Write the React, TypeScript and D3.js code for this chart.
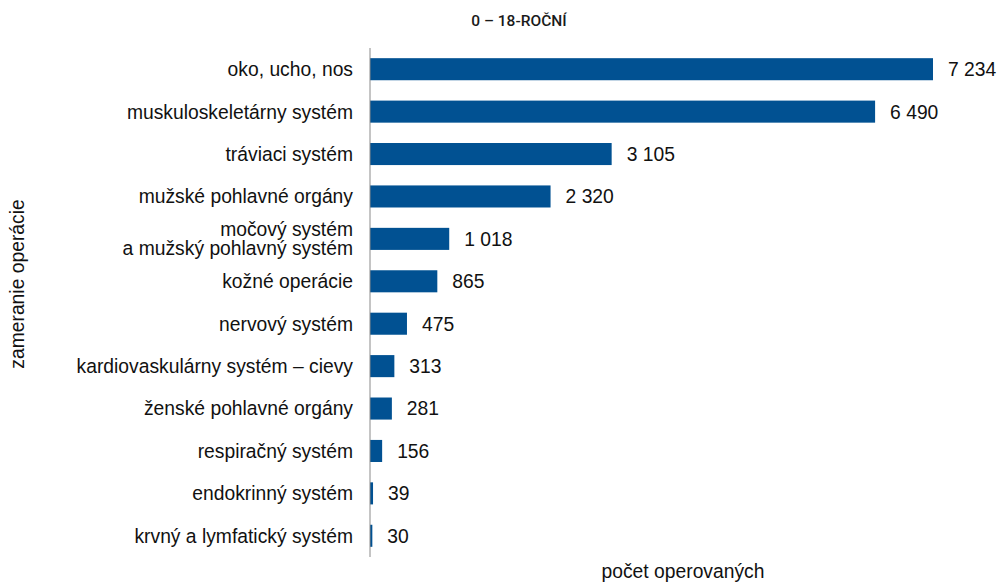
import React from "react";
import * as d3 from "d3";

const categories = [
  "oko, ucho, nos",
  "muskuloskeletárny systém",
  "tráviaci systém",
  "mužské pohlavné orgány",
  "močový systém\na mužský pohlavný systém",
  "kožné operácie",
  "nervový systém",
  "kardiovaskulárny systém – cievy",
  "ženské pohlavné orgány",
  "respiračný systém",
  "endokrinný systém",
  "krvný a lymfatický systém",
];
const values = [7234, 6490, 3105, 2320, 1018, 865, 475, 313, 281, 156, 39, 30];
const title = "0 – 18-ROČNÍ";
const xTitle = "počet operovaných";
const yTitle = "zameranie operácie";

const W = 1007;
const H = 585;
const left = 370;
const top = 48;
const bottom = 557;

export default function App() {
  const x = d3.scaleLinear().domain([0, 7234]).range([left, 933]);
  const y = d3.scaleBand<string>().domain(categories).range([top, bottom]).paddingInner(0.48).paddingOuter(0.24);
  const fmt = (v: number) => d3.format(",")(v).replace(/,/g, " ");
  const font = "'Liberation Sans', Arial, sans-serif";
  const fs = 19.3;
  return (
    <svg width={W} height={H} style={{ position: "absolute", left: 0, top: 0 }} fontFamily={font}>
      <rect width={W} height={H} fill="#fff" />
      <text x={519} y={26} textAnchor="middle" fontFamily="Roboto, sans-serif" fontWeight={500} fontSize={15.5} fill="#1a1a1a">
        {title}
      </text>
      {categories.map((c, i) => {
        const yy = y(c)!;
        const h = y.bandwidth();
        const cy = yy + h / 2;
        const lines = c.split("\n");
        return (
          <g key={c}>
            <rect x={x(0)} y={yy} width={x(values[i]) - x(0)} height={h} fill="#015192" />
            <text x={x(values[i]) + 15} y={cy} dy="0.36em" fontSize={fs} fill="#111">
              {fmt(values[i])}
            </text>
            <text x={353} y={cy} textAnchor="end" fontSize={fs} fill="#111">
              {lines.map((l, j) => (
                <tspan key={j} x={353} dy={j === 0 ? `${0.36 - (lines.length - 1) * 0.5}em` : "1em"}>
                  {l}
                </tspan>
              ))}
            </text>
          </g>
        );
      })}
      <line x1={x(0)} x2={x(0)} y1={top} y2={bottom} stroke="#8a8a8a" strokeWidth={1} />
      <text x={683} y={578} textAnchor="middle" fontSize={fs} fill="#111">
        {xTitle}
      </text>
      <text transform={`translate(24,284) rotate(-90)`} textAnchor="middle" fontSize={fs} fill="#111">
        {yTitle}
      </text>
    </svg>
  );
}
